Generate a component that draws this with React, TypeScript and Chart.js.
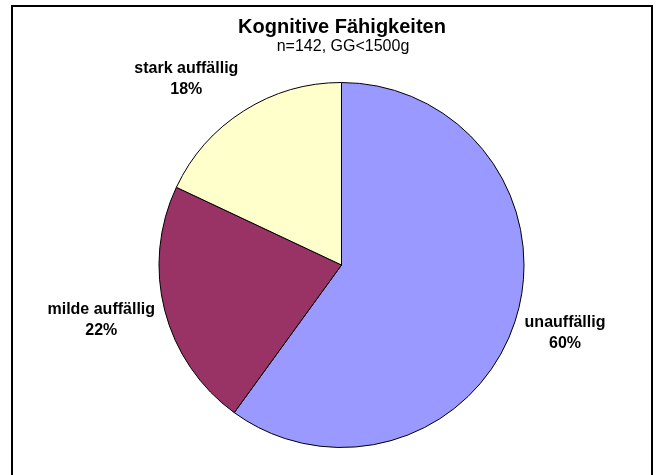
import React, { useEffect, useRef } from "react";
import { Chart, registerables } from "chart.js";

Chart.register(...registerables);

const categories = ["unauffällig", "milde auffällig", "stark auffällig"];
const values = [60, 22, 18];
const colors = ["#9999FF", "#993366", "#FFFFCC"];
const titleText = "Kognitive Fähigkeiten";
const subtitleText = "n=142, GG<1500g";

const FONT = "'Liberation Sans', Arial, sans-serif";

const framePlugin = {
  id: "frame",
  beforeDraw(chart: any) {
    const ctx = chart.ctx;
    ctx.save();
    ctx.fillStyle = "#ffffff";
    ctx.fillRect(0, 0, chart.width, chart.height);
    ctx.strokeStyle = "#000000";
    ctx.lineWidth = 2;
    ctx.strokeRect(12, 6, 640, 480);
    ctx.fillStyle = "#000000";
    ctx.textAlign = "center";
    ctx.textBaseline = "middle";
    ctx.font = `bold 20px ${FONT}`;
    ctx.fillText(titleText, 342, 27);
    ctx.font = `16px ${FONT}`;
    ctx.fillText(subtitleText, 343, 46.5);
    ctx.restore();
  },
};

const labelPlugin = {
  id: "outerLabels",
  afterDatasetsDraw(chart: any) {
    const ctx = chart.ctx;
    const meta = chart.getDatasetMeta(0);
    const total = values.reduce((a, b) => a + b, 0);
    ctx.save();
    ctx.font = `bold 16px ${FONT}`;
    ctx.fillStyle = "#000000";
    ctx.textAlign = "center";
    ctx.textBaseline = "middle";
    meta.data.forEach((arc: any, i: number) => {
      const mid = (arc.startAngle + arc.endAngle) / 2;
      const c = Math.cos(mid);
      const s = Math.sin(mid);
      const r = arc.outerRadius + 10;
      const ax = arc.x + c * r;
      const ay = arc.y + s * r;
      const line1 = categories[i];
      const line2 = Math.round((values[i] / total) * 100) + "%";
      const w = Math.max(ctx.measureText(line1).width, ctx.measureText(line2).width);
      const h = 37;
      let cx = ax;
      if (c > 0.2) cx = ax + w / 2;
      else if (c < -0.2) cx = ax - w / 2;
      const cy = ay + s * h * 0.75;
      ctx.fillText(line1, cx, cy - 10.5);
      ctx.fillText(line2, cx, cy + 10.5);
    });
    ctx.restore();
  },
};

export default function App() {
  const ref = useRef<HTMLCanvasElement | null>(null);
  useEffect(() => {
    document.body.style.margin = "0";
    if (!ref.current) return;
    const chart = new Chart(ref.current, {
      type: "pie",
      data: {
        labels: categories,
        datasets: [
          {
            data: values,
            backgroundColor: colors,
            borderColor: "#000000",
            borderWidth: 1,
          },
        ],
      },
      options: {
        responsive: false,
        animation: false,
        layout: { padding: { left: 158.5, top: 82, right: 131.5, bottom: 27 } },
        plugins: {
          legend: { display: false },
          title: { display: false },
          tooltip: { enabled: false },
        },
      },
      plugins: [framePlugin, labelPlugin],
    });
    return () => chart.destroy();
  }, []);
  return (
    <div style={{ width: 656, height: 475 }}>
      <canvas ref={ref} width={656} height={475} style={{ display: "block" }} />
    </div>
  );
}
